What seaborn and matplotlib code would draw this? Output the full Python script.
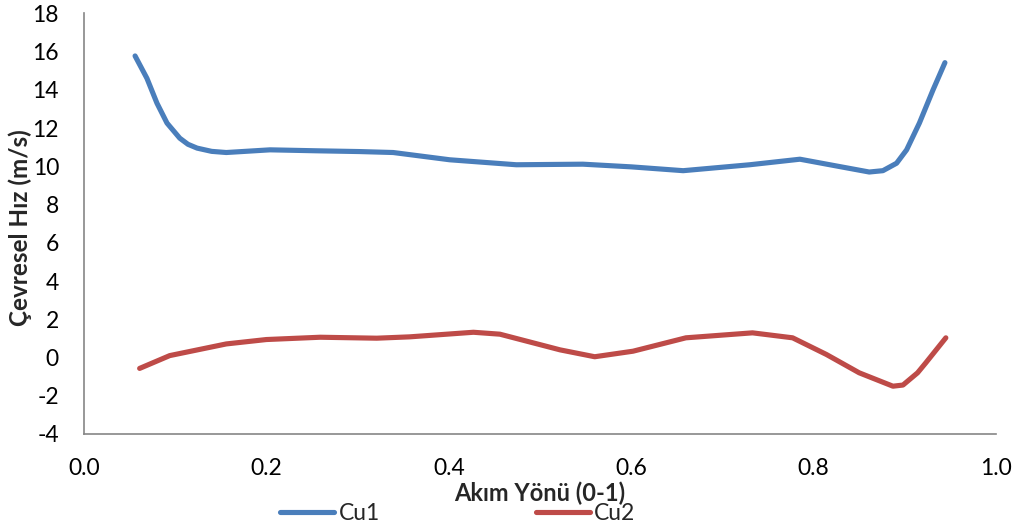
import matplotlib
matplotlib.use("Agg")
import matplotlib.pyplot as plt
import seaborn as sns
import pandas as pd
from matplotlib.lines import Line2D

# ---- data ----
cu1_x = [0.056, 0.069, 0.080, 0.091, 0.105, 0.114, 0.124, 0.140, 0.156, 0.204, 0.255,
         0.302, 0.339, 0.401, 0.474, 0.547, 0.600, 0.657, 0.730, 0.785, 0.828, 0.861,
         0.876, 0.891, 0.902, 0.916, 0.931, 0.944]
cu1_y = [15.77, 14.6, 13.3, 12.26, 11.47, 11.15, 10.95, 10.78, 10.72, 10.86, 10.81,
         10.77, 10.72, 10.34, 10.08, 10.11, 9.97, 9.77, 10.08, 10.37, 9.99, 9.70,
         9.77, 10.16, 10.86, 12.26, 14.0, 15.42]
cu2_x = [0.061, 0.094, 0.156, 0.200, 0.259, 0.321, 0.357, 0.427, 0.456, 0.522, 0.560,
         0.602, 0.660, 0.733, 0.777, 0.814, 0.850, 0.887, 0.898, 0.914, 0.923, 0.945]
cu2_y = [-0.57, 0.10, 0.71, 0.94, 1.06, 1.01, 1.08, 1.32, 1.22, 0.40, 0.04,
         0.33, 1.03, 1.29, 1.03, 0.16, -0.80, -1.50, -1.44, -0.80, -0.28, 1.03]
series_names = ["Cu1", "Cu2"]
x_ticks = [0.0, 0.2, 0.4, 0.6, 0.8, 1.0]
y_ticks = [-4, -2, 0, 2, 4, 6, 8, 10, 12, 14, 16, 18]
x_label = "Akım Yönü (0-1)"
y_label = "Çevresel Hız (m/s)"

df = pd.concat([
    pd.DataFrame({"x": cu1_x, "y": cu1_y, "s": series_names[0]}),
    pd.DataFrame({"x": cu2_x, "y": cu2_y, "s": series_names[1]}),
])

sns.set_style("white")
plt.rcParams["font.family"] = ["Lato", "DejaVu Sans"]

fig = plt.figure(figsize=(10.2, 5.31), dpi=100)
ax = fig.add_axes([84 / 1020, 1 - 434 / 531, 912 / 1020, (434 - 13.3) / 531])

palette = {"Cu1": "#4A7EBB", "Cu2": "#BE4B48"}
sns.lineplot(data=df, x="x", y="y", hue="s", palette=palette, sort=False,
             estimator=None, linewidth=3.7, ax=ax, legend=False)
for ln in ax.lines:
    ln.set_solid_capstyle("round")
    ln.set_solid_joinstyle("round")

ax.set_xlim(0, 1.0)
ax.set_ylim(-4, 18)
ax.set_xticks(x_ticks)
ax.set_xticklabels([f"{v:.1f}" for v in x_ticks])
ax.set_yticks(y_ticks)
ax.set_yticklabels([str(v) for v in y_ticks])

for side in ["top", "right"]:
    ax.spines[side].set_visible(False)
for side in ["left", "bottom"]:
    ax.spines[side].set_color("#868686")
    ax.spines[side].set_linewidth(1.2)

ax.tick_params(axis="both", which="major", direction="out", length=6,
               width=1.2, color="#868686", labelsize=16.5, labelcolor="black")
ax.tick_params(axis="y", pad=12)
ax.tick_params(axis="x", pad=11)

ax.set_xlabel(x_label, fontsize=17, fontweight="bold")
ax.xaxis.set_label_coords(0.5, -0.114)
ax.set_ylabel(y_label, fontsize=17.5, fontweight="bold")
ax.yaxis.set_label_coords(-0.057, 0.49)

handles = [Line2D([0], [0], color=palette[n], lw=3.7, solid_capstyle="round") for n in series_names]
fig.legend(handles, series_names, loc="center", bbox_to_anchor=(458 / 1020, 1 - 514 / 531),
           ncol=2, frameon=False, fontsize=16.5, handlelength=2.35, handletextpad=0.2,
           columnspacing=6.8, borderpad=0, borderaxespad=0)

fig.savefig("out.png", dpi=100)
